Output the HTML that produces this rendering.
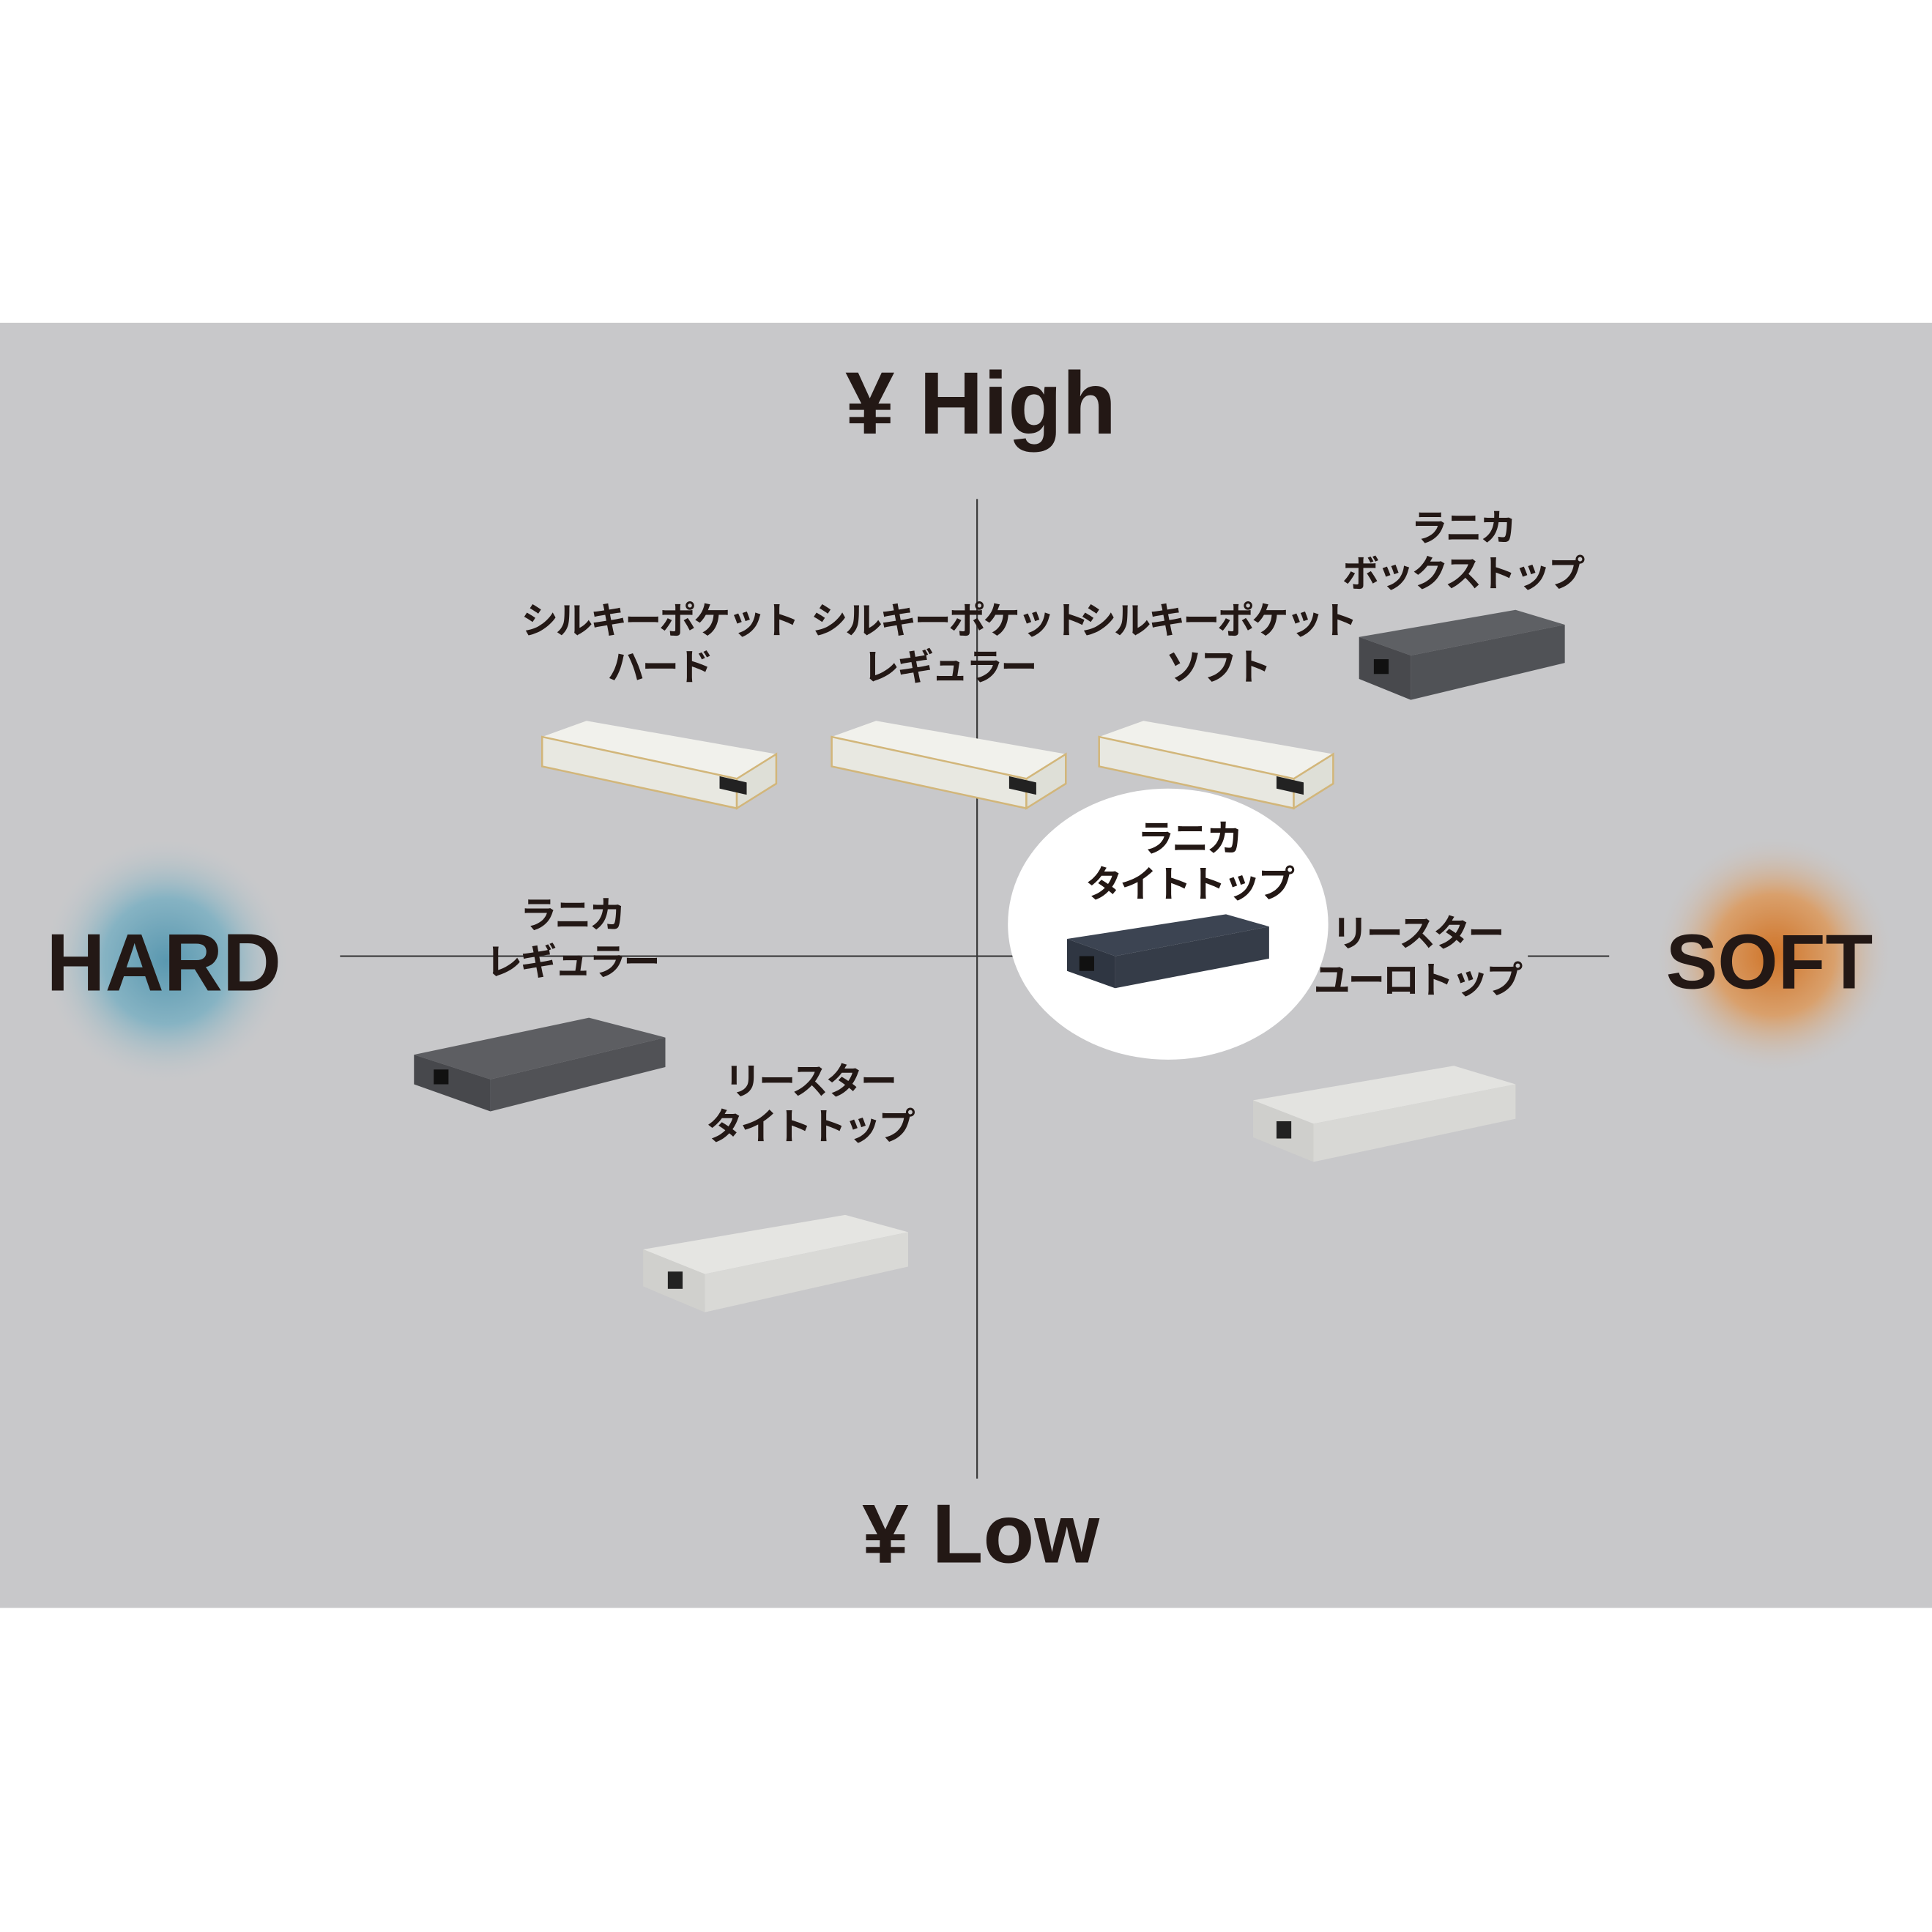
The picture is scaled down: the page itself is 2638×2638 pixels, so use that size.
<!DOCTYPE html>
<html><head><meta charset="utf-8"><style>
html,body{margin:0;padding:0;background:#fff;}
svg{display:block;}
.jp{font-family:"Liberation Sans","Noto Sans CJK JP",sans-serif;font-weight:bold;font-size:30px;letter-spacing:-2px;fill:#231815;text-anchor:middle;}
.en{font-family:"Liberation Sans",sans-serif;font-weight:bold;fill:#231815;}
</style></head><body>
<svg width="2638" height="2638" viewBox="0 0 1568 1568" xmlns="http://www.w3.org/2000/svg">
<defs>
<radialGradient id="blue" cx="50%" cy="50%" r="50%">
<stop offset="0" stop-color="#5a98b0"/><stop offset="0.5" stop-color="#86b3c3"/><stop offset="1" stop-color="#c8c8ca" stop-opacity="0"/>
</radialGradient>
<radialGradient id="orange" cx="50%" cy="50%" r="50%">
<stop offset="0" stop-color="#d07428"/><stop offset="0.5" stop-color="#d9a06c"/><stop offset="1" stop-color="#c8c8ca" stop-opacity="0"/>
</radialGradient>
</defs>
<rect x="0" y="0" width="1568" height="1568" fill="#ffffff"/>
<rect x="0" y="262" width="1568" height="1043" fill="#c8c8ca"/>
<circle cx="135" cy="780" r="102" fill="url(#blue)"/>
<circle cx="1440" cy="775" r="98" fill="url(#orange)"/>
<line x1="793" y1="405" x2="793" y2="1200" stroke="#3a3a3a" stroke-width="1.3"/>
<line x1="276" y1="776" x2="860" y2="776" stroke="#3a3a3a" stroke-width="1.3"/>
<line x1="1048" y1="776" x2="1062" y2="776" stroke="#3a3a3a" stroke-width="1.3"/>
<line x1="1240" y1="776" x2="1306" y2="776" stroke="#3a3a3a" stroke-width="1.3"/>
<ellipse cx="948" cy="750" rx="130" ry="110" fill="#ffffff"/>
<g id="silky">
<polygon points="440,598 476,585 630,612 598,632" fill="#f1f1ec"/>
<polygon points="440,598 598,632 598,656 440,622" fill="#e8e8e1" stroke="#d2b67a" stroke-width="1.5"/>
<polygon points="598,632 630,612 630,636 598,656" fill="#dedfd7" stroke="#d2b67a" stroke-width="1.5"/>
<polygon points="584,630 606,635 606,645 584,640" fill="#222"/>
</g>
<use href="#silky" transform="translate(235,0)"/>
<use href="#silky" transform="translate(452,0)"/>
<polygon points="1103,517 1230,495 1270,507 1145,532" fill="#5e6064"/>
<polygon points="1103,517 1145,532 1145,568 1103,551" fill="#48494d"/>
<polygon points="1145,532 1270,507 1270,538 1145,568" fill="#505256"/>
<rect x="1115" y="535" width="12" height="12" fill="#111"/>
<polygon points="866,762 995,742 1030,752 905,776" fill="#3c4452"/>
<polygon points="866,762 905,776 905,802 866,788" fill="#2f3642"/>
<polygon points="905,776 1030,752 1030,778 905,802" fill="#353c48"/>
<rect x="876" y="776" width="12" height="12" fill="#111"/>
<polygon points="336,856 478,826 540,842 398,876" fill="#5d5e62"/>
<polygon points="336,856 398,876 398,902 336,880" fill="#47484c"/>
<polygon points="398,876 540,842 540,866 398,902" fill="#515256"/>
<rect x="352" y="868" width="12" height="12" fill="#111"/>
<polygon points="1017,893 1180,865 1230,880 1066,912" fill="#e3e3e0"/>
<polygon points="1017,893 1066,912 1066,943 1017,923" fill="#cfcfcc"/>
<polygon points="1066,912 1230,880 1230,908 1066,943" fill="#d8d8d5"/>
<rect x="1036" y="910" width="12" height="14" fill="#222"/>
<polygon points="522,1014 686,986 737,1000 572,1034" fill="#e5e5e2"/>
<polygon points="522,1014 572,1034 572,1065 522,1044" fill="#d0d0cd"/>
<polygon points="572,1034 737,1000 737,1028 572,1065" fill="#d9d9d6"/>
<rect x="542" y="1032" width="12" height="14" fill="#222"/>
<text class="en" x="796" y="352" font-size="72" text-anchor="middle">¥ High</text>
<text class="en" x="796" y="1268" font-size="68" text-anchor="middle">¥ Low</text>
<text class="en" x="133" y="804" font-size="66" text-anchor="middle" font-weight="600">HARD</text>
<text class="en" x="1436" y="802" font-size="63" text-anchor="middle">SOFT</text>
<g font-weight="600">
<text class="jp" x="535" y="514">シルキーポケット</text>
<text class="jp" x="535" y="552">ハード</text>
<text class="jp" x="770" y="514">シルキーポケット</text>
<text class="jp" x="770" y="552">レギュラー</text>
<text class="jp" x="988" y="514">シルキーポケット</text>
<text class="jp" x="988" y="552">ソフト</text>
<text class="jp" x="1187" y="439">ラニカ</text>
<text class="jp" x="1187" y="476">ボックストップ</text>
<text class="jp" x="965" y="691">ラニカ</text>
<text class="jp" x="965" y="728">タイトトップ</text>
<text class="jp" x="464" y="753">ラニカ</text>
<text class="jp" x="464" y="791">レギュラー</text>
<text class="jp" x="1150" y="768">リースター</text>
<text class="jp" x="1150" y="806">ユーロトップ</text>
<text class="jp" x="657" y="888">リースター</text>
<text class="jp" x="657" y="925">タイトトップ</text>
</g>
</svg>
</body></html>
